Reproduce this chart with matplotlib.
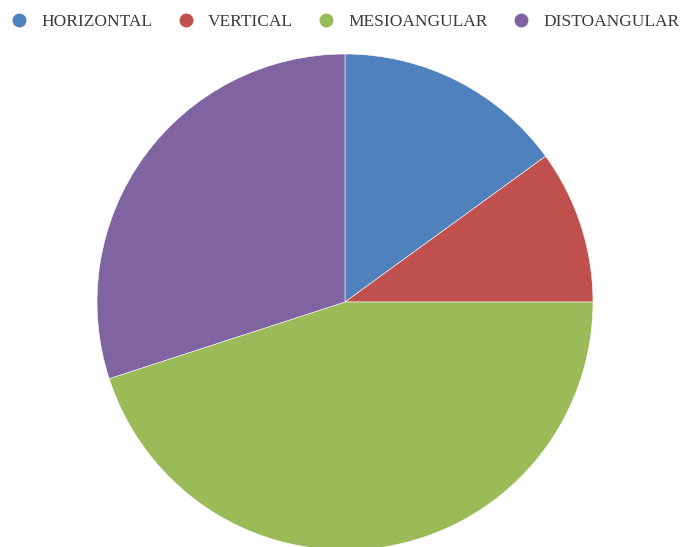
import matplotlib.pyplot as plt
from matplotlib.lines import Line2D

labels = ["HORIZONTAL", "VERTICAL", "MESIOANGULAR", "DISTOANGULAR"]
shares = [15, 10, 45, 30]
colors = ["#4F81BD", "#C0504D", "#9BBB59", "#8064A2"]

fig = plt.figure(figsize=(6.84, 5.47), dpi=100)
ax = fig.add_axes([97 / 684, -3 / 547, 496 / 684, 496 / 547])

ax.pie(shares, colors=colors, startangle=90, counterclock=False,
       radius=1.0, wedgeprops=dict(edgecolor="white", linewidth=0.4))
ax.set_xlim(-1, 1)
ax.set_ylim(-1, 1)
ax.axis("off")

handles = [Line2D([], [], marker="o", linestyle="", markersize=9,
                  markerfacecolor=c, markeredgecolor=c) for c in colors]
leg = fig.legend(handles, labels, loc="center", bbox_to_anchor=(0.498, 1 - 22 / 547),
                 ncol=4, frameon=False, handlelength=2.0, handletextpad=0.25,
                 columnspacing=0.95, borderpad=0,
                 prop={"family": "Liberation Serif", "size": 12.5})
for t in leg.get_texts():
    t.set_color("#3a3a3a")

fig.savefig("out.png", dpi=100)
